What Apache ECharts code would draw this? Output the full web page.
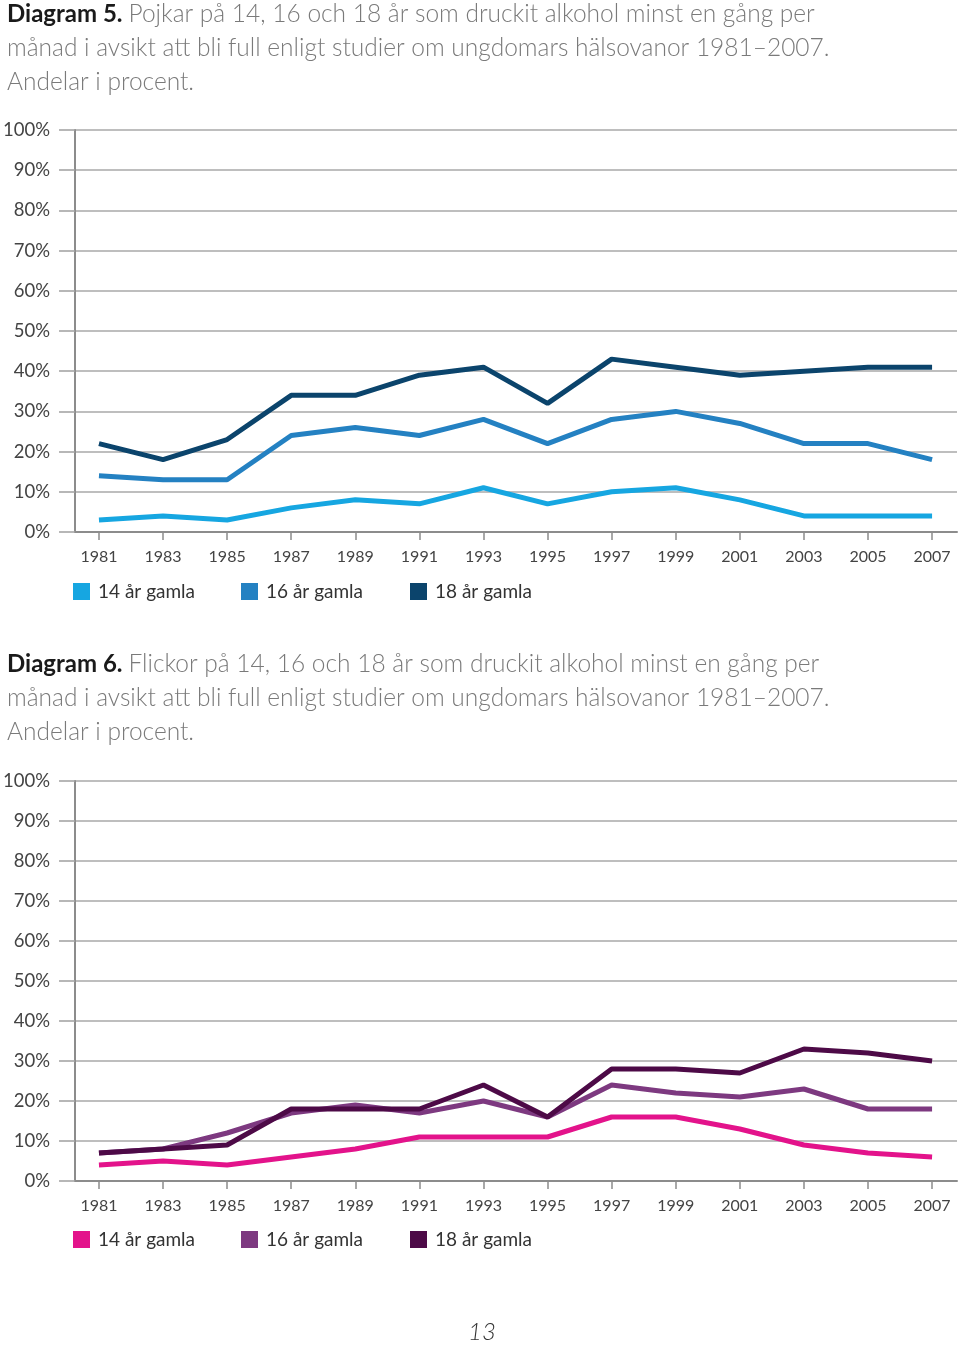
<!DOCTYPE html>
<html><head><meta charset="utf-8">
<script src="https://cdn.jsdelivr.net/npm/echarts@6/dist/echarts.min.js"></script>
<style>html,body{margin:0;padding:0;background:#fff}#c{width:960px;height:1347px}</style>
</head><body><div id="c"></div>
<script>
var years = [1981,1983,1985,1987,1989,1991,1993,1995,1997,1999,2001,2003,2005,2007];
var yTicks = [0,10,20,30,40,50,60,70,80,90,100];
var seriesNames = ['14 år gamla','16 år gamla','18 år gamla'];
// Diagram 5 – Pojkar
var boys14 = [3,4,3,6,8,7,11,7,10,11,8,4,4,4];
var boys16 = [14,13,13,24,26,24,28,22,28,30,27,22,22,18];
var boys18 = [22,18,23,34,34,39,41,32,43,41,39,40,41,41];
// Diagram 6 – Flickor
var girls14 = [4,5,4,6,8,11,11,11,16,16,13,9,7,6];
var girls16 = [7,8,12,17,19,17,20,16,24,22,21,23,18,18];
var girls18 = [7,8,9,18,18,18,24,16,28,28,27,33,32,30];

var title1 = 'Pojkar på 14, 16 och 18 år som druckit alkohol minst en gång per';
var title2 = 'Flickor på 14, 16 och 18 år som druckit alkohol minst en gång per';
var titleRest = 'månad i avsikt att bli full enligt studier om ungdomars hälsovanor 1981–2007.';
var titleLast = 'Andelar i procent.';

var FONT = 'Lato';
function zip(v){ return years.map(function(y,i){ return [y, v[i]]; }); }
function mkTitle(n, t, top){
  return {
    left: 2, top: top,
    text: '{b|Diagram ' + n + '.} {n|' + t + '}\n{n|' + titleRest + '}\n{n|' + titleLast + '}',
    textStyle: {
      fontFamily: FONT, fontSize: 24.5, lineHeight: 34,
      rich: {
        b: {fontFamily: FONT, fontSize: 24, fontWeight: 'bold', color: '#1a1a1a', lineHeight: 34},
        n: {fontFamily: FONT, fontSize: 24.5, fontWeight: 300, color: '#7a7a7a', lineHeight: 34}
      }
    }
  };
}
function xAxis(gi){
  return {
    gridIndex: gi, type: 'value', min: 1980.253, max: 2007.778,
    axisLine: {show: true, lineStyle: {color: '#8c8c8c', width: 2}},
    axisTick: {show: true, customValues: years, length: 8, lineStyle: {color: '#8c8c8c', width: 1.5}},
    axisLabel: {customValues: years, margin: 17, fontFamily: FONT, fontSize: 16, color: '#444',
      formatter: function(v){ return String(v); }},
    splitLine: {show: false}
  };
}
function yAxis(gi){
  return {
    gridIndex: gi, type: 'value', min: 0, max: 100, interval: 10,
    axisLine: {show: true, lineStyle: {color: '#8c8c8c', width: 2}},
    axisTick: {show: true, length: 16, lineStyle: {color: '#a0a0a0', width: 1.5}},
    axisLabel: {margin: 25, fontFamily: FONT, fontSize: 18.5, color: '#444', formatter: '{value}%'},
    splitLine: {show: true, lineStyle: {color: '#a8a8a8', width: 1.5}}
  };
}
function line(name, data, color, gi){
  return {
    name: name, type: 'line', xAxisIndex: gi, yAxisIndex: gi, data: zip(data),
    symbol: 'none', lineStyle: {color: color, width: 5}, itemStyle: {color: color},
    animation: false
  };
}
var c1 = ['#16a6e1', '#2481c2', '#0b446c'];
var c2 = ['#e3138b', '#7d3980', '#4d0a47'];
var legLeft = [68, 236, 405];
var legends = [];
[0,1].forEach(function(g){
  var cols = g === 0 ? c1 : c2;
  seriesNames.forEach(function(n, i){
    legends.push({
      left: legLeft[i], top: g === 0 ? 577 : 1225,
      data: [{name: g === 0 ? n : n + ' ', itemStyle: {color: cols[i]}}],
      icon: 'rect', itemWidth: 17, itemHeight: 17, itemGap: 0,
      textStyle: {fontFamily: FONT, fontSize: 19, color: '#333', padding: [0,0,0,3]},
      selectedMode: false
    });
  });
});
var chart = echarts.init(document.getElementById('c'), null, {renderer: 'canvas'});
chart.setOption({
  animation: false,
  backgroundColor: '#fff',
  title: [
    mkTitle(5, title1, -8),
    mkTitle(6, title2, 642),
    {text: '13', left: 463, top: 1315, textStyle: {fontFamily: FONT, fontSize: 24, fontStyle: 'italic', fontWeight: 300, color: '#333'}}
  ],
  legend: legends,
  grid: [
    {left: 73, right: 3, top: 130, height: 402},
    {left: 73, right: 3, top: 781, height: 400}
  ],
  xAxis: [xAxis(0), xAxis(1)],
  yAxis: [yAxis(0), yAxis(1)],
  series: [
    line(seriesNames[0], boys14, c1[0], 0),
    line(seriesNames[1], boys16, c1[1], 0),
    line(seriesNames[2], boys18, c1[2], 0),
    line(seriesNames[0] + ' ', girls14, c2[0], 1),
    line(seriesNames[1] + ' ', girls16, c2[1], 1),
    line(seriesNames[2] + ' ', girls18, c2[2], 1)
  ]
});
</script></body></html>
